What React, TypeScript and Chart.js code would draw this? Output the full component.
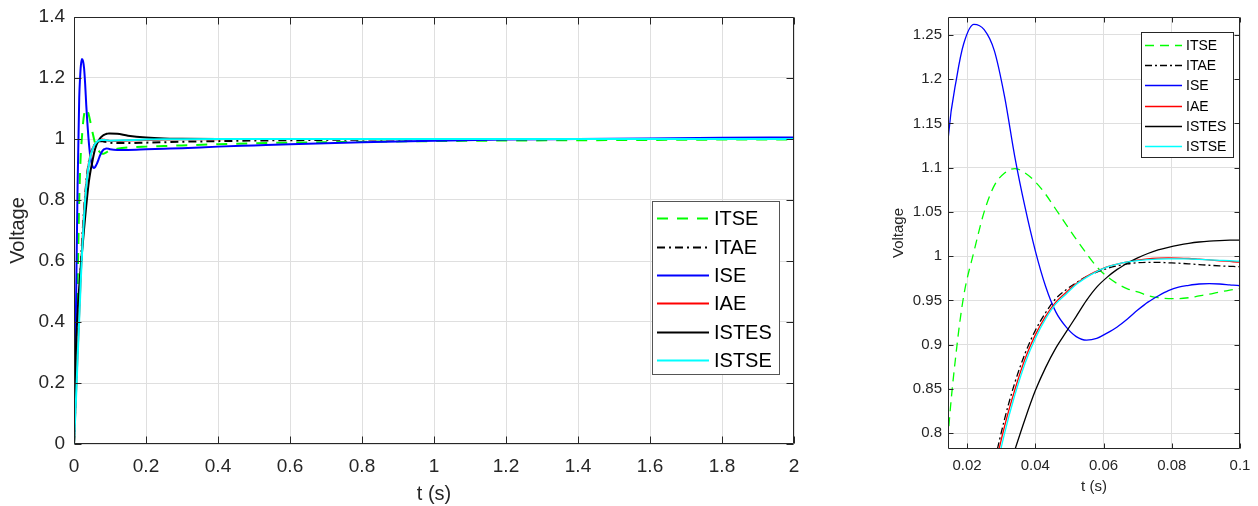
import React, { useEffect, useRef } from 'react';
import { Chart, registerables } from 'chart.js';
Chart.register(...registerables);

const FONT = "'Liberation Sans', Arial, Helvetica, sans-serif";

// time samples (s)
const t = [0, 0.005, 0.01, 0.0145, 0.017, 0.019, 0.022, 0.025, 0.028, 0.031, 0.034, 0.037, 0.04, 0.043, 0.046, 0.049, 0.052, 0.055, 0.058, 0.061, 0.064, 0.067, 0.07, 0.073, 0.076, 0.079, 0.082, 0.085, 0.088, 0.091, 0.094, 0.097, 0.1, 0.12, 0.15, 0.2, 0.25, 0.3, 0.4, 0.5, 0.6, 0.8, 1.0, 1.2, 1.4, 1.6, 1.8, 2.0];

const itse = [0, 0.22, 0.52, 0.8, 0.898, 0.955, 1.005, 1.05, 1.08, 1.094, 1.099, 1.094, 1.084, 1.07, 1.053, 1.036, 1.019, 1.003, 0.988, 0.977, 0.969, 0.963, 0.9595, 0.9555, 0.953, 0.952, 0.952, 0.953, 0.955, 0.957, 0.9595, 0.9615, 0.9635, 0.968, 0.972, 0.975, 0.977, 0.979, 0.983, 0.986, 0.988, 0.991, 0.993, 0.995, 0.996, 0.997, 0.998, 0.998];
const itae = [0, 0.17, 0.33, 0.46, 0.53, 0.585, 0.655, 0.715, 0.767, 0.816, 0.857, 0.89, 0.916, 0.936, 0.952, 0.962, 0.97, 0.977, 0.982, 0.986, 0.989, 0.9912, 0.9925, 0.993, 0.993, 0.9925, 0.992, 0.9913, 0.9905, 0.9897, 0.989, 0.9885, 0.988, 0.9865, 0.9865, 0.988, 0.9895, 0.991, 0.993, 0.995, 0.996, 0.998, 0.999, 1.0, 1.0, 1.0, 1.0, 1.0];
const ise = [0, 0.4, 0.85, 1.135, 1.203, 1.24, 1.262, 1.256, 1.232, 1.18, 1.112, 1.055, 1.006, 0.966, 0.937, 0.92, 0.909, 0.905, 0.907, 0.913, 0.92, 0.929, 0.939, 0.948, 0.955, 0.961, 0.965, 0.967, 0.9685, 0.969, 0.9685, 0.9675, 0.9665, 0.964, 0.964, 0.966, 0.968, 0.97, 0.975, 0.979, 0.983, 0.989, 0.994, 0.998, 1.0, 1.002, 1.004, 1.005];
const iae = [0, 0.15, 0.3, 0.43, 0.5, 0.56, 0.63, 0.7, 0.758, 0.808, 0.849, 0.884, 0.911, 0.932, 0.948, 0.959, 0.969, 0.977, 0.983, 0.988, 0.991, 0.9935, 0.9955, 0.997, 0.9977, 0.998, 0.9978, 0.9973, 0.9965, 0.9957, 0.9948, 0.994, 0.9932, 0.9935, 0.995, 0.997, 0.998, 0.999, 0.9995, 1.0, 1.0, 1.0, 1.0, 1.0, 1.0, 1.0, 1.0, 1.0];
const istes = [0, 0.3, 0.43, 0.515, 0.555, 0.585, 0.625, 0.665, 0.705, 0.744, 0.781, 0.816, 0.848, 0.874, 0.896, 0.914, 0.932, 0.95, 0.965, 0.976, 0.985, 0.992, 0.998, 1.003, 1.007, 1.01, 1.0125, 1.0145, 1.016, 1.017, 1.0176, 1.018, 1.0182, 1.017, 1.011, 1.005, 1.002, 1.001, 1.0, 1.0, 1.0, 1.0, 1.0, 1.0, 1.0, 1.0, 1.0, 1.0];
const istse = [0, 0.13, 0.28, 0.41, 0.48, 0.54, 0.615, 0.688, 0.748, 0.8, 0.843, 0.879, 0.907, 0.929, 0.946, 0.957, 0.968, 0.976, 0.9825, 0.9875, 0.991, 0.9935, 0.995, 0.996, 0.9967, 0.997, 0.997, 0.9968, 0.9963, 0.9958, 0.9953, 0.9948, 0.9944, 0.9948, 0.996, 0.998, 0.999, 0.9995, 1.0, 1.0, 1.0, 1.0, 1.0, 1.0, 1.0, 1.0, 1.0, 1.0];

const seriesNames = ['ITSE', 'ITAE', 'ISE', 'IAE', 'ISTES', 'ISTSE'];
const seriesValues = [itse, itae, ise, iae, istes, istse];
const seriesColors = ['#00ff00', '#000000', '#0000ff', '#ff0000', '#000000', '#00ffff'];
const seriesStyle = ['dash', 'dashdot', 'solid', 'solid', 'solid', 'solid'];

// tick values and labels
const mainXTicks = [0, 0.2, 0.4, 0.6, 0.8, 1, 1.2, 1.4, 1.6, 1.8, 2];
const mainXLabels = ['0', '0.2', '0.4', '0.6', '0.8', '1', '1.2', '1.4', '1.6', '1.8', '2'];
const mainYTicks = [0, 0.2, 0.4, 0.6, 0.8, 1, 1.2, 1.4];
const mainYLabels = ['0', '0.2', '0.4', '0.6', '0.8', '1', '1.2', '1.4'];
const zoomXTicks = [0.02, 0.04, 0.06, 0.08, 0.1];
const zoomXLabels = ['0.02', '0.04', '0.06', '0.08', '0.1'];
const zoomYTicks = [0.8, 0.85, 0.9, 0.95, 1, 1.05, 1.1, 1.15, 1.2, 1.25];
const zoomYLabels = ['0.8', '0.85', '0.9', '0.95', '1', '1.05', '1.1', '1.15', '1.2', '1.25'];

const framePlugin = {
  id: 'frame',
  afterDatasetsDraw(chart: any, _a: any, opts: any) {
    const { ctx, chartArea: a, scales } = chart;
    const L = Math.round(a.left) + 0.5;
    const R = Math.round(a.right) - 0.5;
    const T = Math.round(a.top) + 0.5;
    const B = Math.round(a.bottom) - 0.5;
    const len = opts.tickLen;
    ctx.save();
    ctx.strokeStyle = opts.color;
    ctx.lineWidth = 1;
    ctx.setLineDash([]);
    ctx.beginPath();
    ctx.rect(L, T, R - L, B - T);
    scales.x.ticks.forEach((tk: any) => {
      const p = Math.round(scales.x.getPixelForValue(tk.value)) + 0.5;
      ctx.moveTo(p, B); ctx.lineTo(p, B - len);
      ctx.moveTo(p, T); ctx.lineTo(p, T + len);
    });
    scales.y.ticks.forEach((tk: any) => {
      const p = Math.round(scales.y.getPixelForValue(tk.value)) + 0.5;
      ctx.moveTo(L, p); ctx.lineTo(L + len, p);
      ctx.moveTo(R, p); ctx.lineTo(R - len, p);
    });
    ctx.stroke();
    ctx.restore();
  },
};

const boxLegendPlugin = {
  id: 'boxLegend',
  afterDraw(chart: any, _a: any, o: any) {
    const { ctx } = chart;
    ctx.save();
    ctx.fillStyle = '#ffffff';
    ctx.fillRect(o.x, o.y, o.w, o.h);
    ctx.strokeStyle = o.border;
    ctx.lineWidth = 1;
    ctx.setLineDash([]);
    ctx.strokeRect(o.x + 0.5, o.y + 0.5, o.w, o.h);
    chart.data.datasets.forEach((ds: any, i: number) => {
      const cy = Math.round(o.y + o.firstRow + i * o.rowH) + 0.5;
      ctx.setLineDash(ds.borderDash || []);
      ctx.strokeStyle = ds.borderColor;
      ctx.lineWidth = ds.borderWidth;
      ctx.beginPath();
      ctx.moveTo(o.lineX0, cy);
      ctx.lineTo(o.lineX1, cy);
      ctx.stroke();
      ctx.setLineDash([]);
      ctx.fillStyle = '#000000';
      ctx.font = o.font;
      ctx.textBaseline = 'middle';
      ctx.textAlign = 'left';
      ctx.fillText(ds.label, o.textX, cy + 1);
    });
    ctx.restore();
  },
};

function buildDatasets(width: number, dash: number[], dashDot: number[]) {
  return seriesNames.map((name, i) => ({
    label: name,
    data: t.map((x, k) => ({ x, y: seriesValues[i][k] })),
    borderColor: seriesColors[i],
    backgroundColor: seriesColors[i],
    borderWidth: width,
    borderDash: seriesStyle[i] === 'dash' ? dash : seriesStyle[i] === 'dashdot' ? dashDot : [],
    pointRadius: 0,
    fill: false,
    cubicInterpolationMode: 'monotone' as const,
    order: seriesNames.length - i,
    clip: 0,
  }));
}

interface Spec {
  width: number;
  height: number;
  padTop: number;
  padRight: number;
  yAxisWidth: number;
  xAxisHeight: number;
  xMin: number; xMax: number; yMin: number; yMax: number;
  xTicks: number[]; xLabels: string[]; yTicks: number[]; yLabels: string[];
  tickFont: number; titleFont: number;
  xTickPad: number; yTickPad: number;
  xTitlePadBottom: number; yTitlePadTop: number;
  lineWidth: number; dash: number[]; dashDot: number[];
  tickLen: number;
  legend: any;
}

function zeroPad(sc: any) {
  sc.paddingLeft = 0;
  sc.paddingRight = 0;
  sc.paddingTop = 0;
  sc.paddingBottom = 0;
}

function makeConfig(s: Spec): any {
  return {
    type: 'line',
    data: { datasets: buildDatasets(s.lineWidth, s.dash, s.dashDot) },
    plugins: [framePlugin, boxLegendPlugin],
    options: {
      responsive: false,
      animation: false,
      devicePixelRatio: 1,
      layout: { padding: { top: s.padTop, right: s.padRight, left: 0, bottom: 0 } },
      plugins: {
        legend: { display: false },
        tooltip: { enabled: false },
        frame: { color: '#262626', tickLen: s.tickLen },
        boxLegend: s.legend,
      },
      scales: {
        x: {
          type: 'linear',
          min: s.xMin,
          max: s.xMax,
          afterBuildTicks: (sc: any) => { sc.ticks = s.xTicks.map((v) => ({ value: v })); },
          afterFit: (sc: any) => { sc.height = s.xAxisHeight; zeroPad(sc); },
          ticks: {
            color: '#262626',
            font: { family: FONT, size: s.tickFont },
            padding: s.xTickPad,
            maxRotation: 0,
            autoSkip: false,
            callback: (_v: any, i: number) => s.xLabels[i],
          },
          grid: { color: '#dfdfdf', drawTicks: false, lineWidth: 1 },
          border: { display: false },
          title: {
            display: true,
            text: 't (s)',
            color: '#262626',
            font: { family: FONT, size: s.titleFont },
            padding: { top: 0, bottom: s.xTitlePadBottom },
          },
        },
        y: {
          type: 'linear',
          min: s.yMin,
          max: s.yMax,
          afterBuildTicks: (sc: any) => { sc.ticks = s.yTicks.map((v) => ({ value: v })); },
          afterFit: (sc: any) => { sc.width = s.yAxisWidth; zeroPad(sc); },
          ticks: {
            color: '#262626',
            font: { family: FONT, size: s.tickFont },
            padding: s.yTickPad,
            autoSkip: false,
            callback: (_v: any, i: number) => s.yLabels[i],
          },
          grid: { color: '#dfdfdf', drawTicks: false, lineWidth: 1 },
          border: { display: false },
          title: {
            display: true,
            text: 'Voltage',
            color: '#262626',
            font: { family: FONT, size: s.titleFont },
            padding: { top: s.yTitlePadTop, bottom: 0 },
          },
        },
      },
    },
  };
}

const mainSpec: Spec = {
  width: 800, height: 506, padTop: 17, padRight: 6, yAxisWidth: 74, xAxisHeight: 62,
  xMin: 0, xMax: 2, yMin: 0, yMax: 1.4,
  xTicks: mainXTicks, xLabels: mainXLabels, yTicks: mainYTicks, yLabels: mainYLabels,
  tickFont: 19, titleFont: 20, xTickPad: 11, yTickPad: 9, xTitlePadBottom: 0, yTitlePadTop: 6,
  lineWidth: 2, dash: [11, 9], dashDot: [8, 4, 2, 4], tickLen: 7,
  legend: {
    x: 652, y: 201, w: 127, h: 173, firstRow: 17.3, rowH: 28.3,
    lineX0: 657, lineX1: 709, textX: 714, border: '#555555', font: `20px ${FONT}`,
  },
};

const zoomSpec: Spec = {
  width: 378, height: 506, padTop: 17, padRight: 18, yAxisWidth: 68, xAxisHeight: 57,
  xMin: 0.0144, xMax: 0.1, yMin: 0.782, yMax: 1.2703,
  xTicks: zoomXTicks, xLabels: zoomXLabels, yTicks: zoomYTicks, yLabels: zoomYLabels,
  tickFont: 15, titleFont: 15, xTickPad: 8, yTickPad: 6, xTitlePadBottom: 10, yTitlePadTop: 10,
  lineWidth: 1.3, dash: [9, 6], dashDot: [7, 3, 2, 3], tickLen: 5,
  legend: {
    x: 261, y: 32, w: 92, h: 125, firstRow: 13, rowH: 20.2,
    lineX0: 265, lineX1: 302, textX: 306, border: '#262626', font: `14px ${FONT}`,
  },
};

function ChartCanvas({ spec }: { spec: Spec }) {
  const ref = useRef<HTMLCanvasElement | null>(null);
  useEffect(() => {
    if (!ref.current) return;
    const chart = new Chart(ref.current, makeConfig(spec));
    return () => chart.destroy();
  }, [spec]);
  return (
    <canvas
      ref={ref}
      width={spec.width}
      height={spec.height}
      style={{ display: 'block', width: spec.width, height: spec.height }}
    />
  );
}

export default function App() {
  return (
    <div style={{ position: 'absolute', left: 0, top: 0, width: 1258, height: 506, background: '#ffffff', overflow: 'hidden' }}>
      <div style={{ position: 'absolute', left: 0, top: 0 }}>
        <ChartCanvas spec={mainSpec} />
      </div>
      <div style={{ position: 'absolute', left: 880, top: 0 }}>
        <ChartCanvas spec={zoomSpec} />
      </div>
    </div>
  );
}
